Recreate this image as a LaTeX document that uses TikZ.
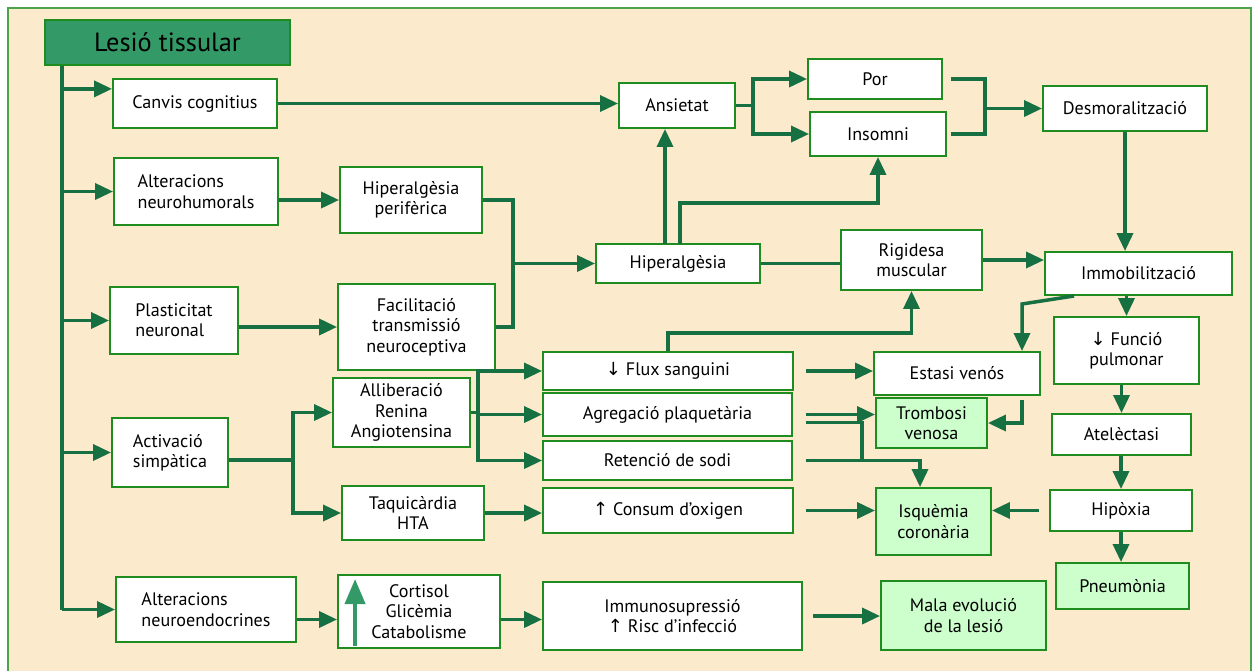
\documentclass[tikz,border=0pt]{standalone}
\usepackage{fontspec}
\setmainfont{PT Sans}
\newfontfamily\arw{DejaVu Sans}
\usetikzlibrary{arrows.meta}
\definecolor{fons}{RGB}{252,234,204}
\definecolor{vora}{RGB}{30,140,30}
\definecolor{fletxa}{RGB}{22,112,66}
\definecolor{titol}{RGB}{51,153,102}
\definecolor{efecte}{RGB}{204,255,204}

\begin{document}
\begin{tikzpicture}[x=0.02cm,y=-0.02cm,
    caixa/.style={draw=vora,line width=1.1pt,fill=white,inner sep=1pt,align=center,
      font=\fontsize{10.3}{11.6}\selectfont},
    final/.style={caixa,fill=efecte},
    linia/.style={draw=fletxa,line width=2pt},
    fletx/.style={linia,-{Triangle[length=0.36cm,width=0.32cm]}}]
  \useasboundingbox (0,0) rectangle (1253,670);
  \fill[fons,draw=vora!80,line width=0.8pt] (8,8) rectangle (1251,690);

  % columna esquerra
  \node[caixa,fill=titol,font=\fontsize{15}{17}\selectfont,minimum width=4.9cm,minimum height=0.9cm] (lesio) at (167.5,42.5) {Lesió tissular};
  \node[caixa,minimum width=3.28cm,minimum height=0.98cm] (canvis) at (195,103.5) {Canvis cognitius};
  \node[caixa,align=left,minimum width=3.28cm,minimum height=1.34cm] (neurohum) at (196,191.5) {Alteracions\\neurohumorals};
  \node[caixa,align=left,minimum width=2.56cm,minimum height=1.34cm] (plast) at (174,320.5) {Plasticitat\\neuronal};
  \node[caixa,align=left,minimum width=2.32cm,minimum height=1.38cm] (activ) at (170,452.5) {Activació\\simpàtica};
  \node[caixa,align=left,minimum width=3.6cm,minimum height=1.3cm] (neuroend) at (206,609.5) {Alteracions\\neuroendocrines};

  % segona columna
  \node[caixa,minimum width=2.84cm,minimum height=1.32cm] (hipperif) at (411,200) {Hiperalgèsia\\perifèrica};
  \node[caixa,minimum width=3.14cm,minimum height=1.72cm] (facil) at (416.5,327) {Facilitació\\transmissió\\neuroceptiva};
  \node[caixa,minimum width=2.74cm,minimum height=1.38cm] (allib) at (401.5,412.5) {Alliberació\\Renina\\Angiotensina};
  \node[caixa,minimum width=2.84cm,minimum height=1.08cm] (taqui) at (413,513) {Taquicàrdia\\HTA};
  \node[caixa,minimum width=3.24cm,minimum height=1.46cm] (cortisol) at (419,611.5) {Cortisol\\Glicèmia\\Catabolisme};
  \draw[titol,line width=2.3pt,-{Triangle[length=0.5cm,width=0.4cm]}]
    ([shift={(18,-3)}]cortisol.south west) -- ([shift={(18,5)}]cortisol.north west);

  % centre
  \node[caixa,minimum width=2.32cm,minimum height=0.9cm] (ansietat) at (677,105.5) {Ansietat};
  \node[caixa,minimum width=2.68cm,minimum height=0.8cm] (por) at (875,79) {Por};
  \node[caixa,minimum width=2.72cm,minimum height=0.88cm] (insomni) at (878,134) {Insomni};
  \node[caixa,minimum width=3.28cm,minimum height=0.78cm] (hiperalg) at (678,263.5) {Hiperalgèsia};
  \node[caixa,minimum width=2.82cm,minimum height=1.2cm] (rigid) at (911.5,260) {Rigidesa\\muscular};
  \node[caixa,minimum width=5cm,minimum height=0.76cm] (flux) at (668,371) {{\arw↓} Flux sanguini};
  \node[caixa,minimum width=4.98cm,minimum height=0.86cm] (agreg) at (667.5,414.5) {Agregació plaquetària};
  \node[caixa,minimum width=4.98cm,minimum height=0.78cm] (reten) at (667.5,460.5) {Retenció de sodi};
  \node[caixa,minimum width=5cm,minimum height=0.9cm] (consum) at (668,510.5) {{\arw↑} Consum d’oxigen};
  \node[caixa,minimum width=5.18cm,minimum height=1.36cm] (immuno) at (672.5,616) {Immunosupressió\\{\arw↑} Risc d’infecció};
  \node[caixa,minimum width=3.32cm,minimum height=0.86cm] (estasi) at (957,373.5) {Estasi venós};
  \node[final,minimum width=2.22cm,minimum height=1cm] (tromb) at (931.5,423) {Trombosi\\venosa};
  \node[final,minimum width=2.3cm,minimum height=1.34cm] (isquem) at (933.5,521.5) {Isquèmia\\coronària};
  \node[final,minimum width=3.3cm,minimum height=1.38cm] (mala) at (963.5,615.5) {Mala evolució\\de la lesió};

  % columna dreta
  \node[caixa,minimum width=3.28cm,minimum height=0.9cm] (desmor) at (1125,108.5) {Desmoralització};
  \node[caixa,minimum width=3.74cm,minimum height=0.86cm] (immob) at (1138.5,273.5) {Immobilització};
  \node[caixa,minimum width=2.9cm,minimum height=1.34cm] (funcio) at (1126.5,350.5) {{\arw↓} Funció\\pulmonar};
  \node[caixa,minimum width=2.78cm,minimum height=0.82cm] (atelec) at (1121.5,434.5) {Atelèctasi};
  \node[caixa,minimum width=2.84cm,minimum height=0.82cm] (hipox) at (1121,510.5) {Hipòxia};
  \node[final,minimum width=2.66cm,minimum height=0.92cm] (pneum) at (1122.5,586) {Pneumònia};

  % connexions
  \coordinate (tronc) at ([xshift=0.36cm]lesio.south west);
  \draw[linia] (tronc) -- (tronc |- neuroend.west);
  \foreach \n in {canvis.170,neurohum.west,plast.west,activ.west,neuroend.west}
    \draw[fletx] (tronc |- \n) -- (\n);

  \draw[fletx] (canvis.east) -- (canvis.east -| ansietat.west);
  \draw[fletx] (hipperif.west -| neurohum.east) -- (hipperif.west);
  \draw[fletx] (facil.west -| plast.east) -- (facil.west);
  \coordinate (j1) at (513,263.5);
  \draw[linia] (hipperif.east) -| (j1) |- (facil.east);
  \draw[fletx] (j1) -- (hiperalg.west);

  \coordinate (h1) at (665,244);
  \coordinate (h2) at (680,244);
  \draw[fletx] (h1) -- (h1 |- ansietat.south);
  \draw[fletx] (h2) -- ++(0,-41) -| (insomni.south);
  \draw[fletx] (ansietat.east) -- ++(17,0) |- (por.west);
  \draw[fletx] (ansietat.east) -- ++(17,0) |- (insomni.west);
  \coordinate (j2) at (985,108.5);
  \draw[linia] (por.east) ++(8,0) -| (j2);
  \draw[linia] (insomni.east) ++(4,0) -| (j2);
  \draw[fletx] (j2) -- (desmor.west);
  \draw[fletx] (desmor.south) -- (desmor.south |- immob.north);

  \draw[linia] (hiperalg.east) -- (hiperalg.east -| rigid.west);
  \draw[fletx] (rigid.east) -- (rigid.east -| immob.west);
  \draw[fletx] (flux.north) -- ++(0,-18) -| (rigid.south);

  \coordinate (k) at (1022,304);
  \draw[fletx] ([xshift=0.6cm]immob.south west) -- (k) -- (k |- estasi.north);
  \draw[fletx] (k |- estasi.south) ++(0,4) |- (tromb.east);
  \draw[fletx] (funcio.north |- immob.south) -- (funcio.north);
  \draw[fletx] (atelec.north |- funcio.south) -- (atelec.north);
  \draw[fletx] (hipox.north |- atelec.south) -- (hipox.north);
  \draw[fletx] (hipox.south) -- (hipox.south |- pneum.north);
  \draw[fletx] ([xshift=-0.2cm]hipox.west) -- (hipox.west -| isquem.east);

  \coordinate (j5) at (478,412.5);
  \draw[linia] (allib.east) -- (j5);
  \foreach \n in {flux,agreg,reten}
    \draw[fletx] (j5) |- (\n.west);
  \coordinate (j6) at (293,460);
  \draw[linia] (activ.east |- j6) -- (j6);
  \draw[fletx] (j6) |- (allib.west);
  \draw[fletx] (j6) |- (taqui.west);
  \draw[fletx] (taqui.east) -- (taqui.east -| consum.west);

  \draw[fletx] ([xshift=0.24cm]flux.east) -- (flux.east -| estasi.west);
  \draw[fletx] ([xshift=0.26cm]agreg.east) -- (agreg.east -| tromb.west);
  \coordinate (j3) at (862,460.5);
  \draw[linia] ([shift={(13,8)}]agreg.east) -| (j3);
  \coordinate (j4) at (920,460.5);
  \draw[fletx] ([xshift=0.26cm]reten.east) -- (j4) -- (j4 |- isquem.north);
  \draw[fletx] ([xshift=0.24cm]consum.east) -- (consum.east -| isquem.west);

  \draw[fletx] ([yshift=-0.2cm]neuroend.east) -- ([yshift=-0.2cm]neuroend.east -| cortisol.west);
  \draw[fletx] ([yshift=-0.16cm]cortisol.east) -- ([yshift=-0.16cm]cortisol.east -| immuno.west);
  \draw[fletx] ([xshift=0.2cm]immuno.east) -- (immuno.east -| mala.west);
\end{tikzpicture}
\end{document}
